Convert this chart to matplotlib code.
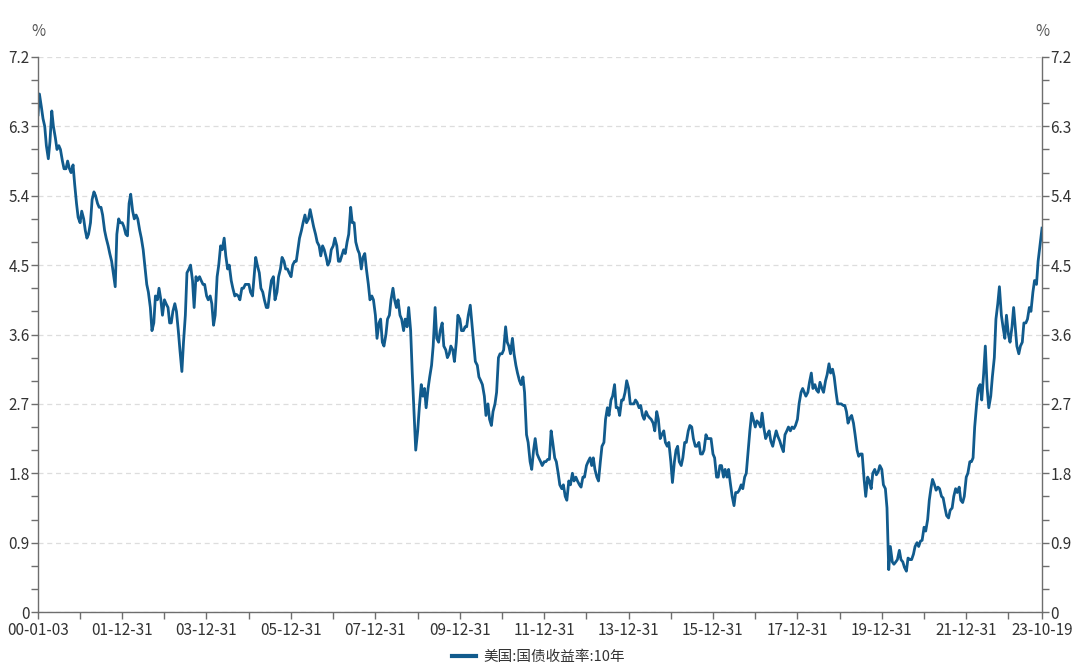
import numpy as np
import matplotlib.pyplot as plt
import matplotlib.dates as mdates
import pandas as pd
from matplotlib.ticker import MultipleLocator, FixedLocator

plt.rcParams['font.family'] = ['Noto Sans CJK SC', 'DejaVu Sans']

# 美国10年期国债收益率, 每半月取值(%)
y2000 = [6.45, 6.72, 6.55, 6.40, 6.30, 6.05, 5.88, 6.10, 6.50, 6.30, 6.15, 6.00,
         6.05, 6.00, 5.85, 5.75, 5.75, 5.85, 5.75, 5.70, 5.80, 5.55, 5.30, 5.12]
y2001 = [5.05, 5.20, 5.10, 4.95, 4.85, 4.90, 5.05, 5.35, 5.45, 5.40, 5.30, 5.25,
         5.25, 5.15, 4.95, 4.85, 4.75, 4.65, 4.55, 4.40, 4.22, 4.90, 5.10, 5.05]
y2002 = [5.05, 5.00, 4.90, 4.88, 5.30, 5.42, 5.20, 5.10, 5.15, 5.10, 4.95, 4.85,
         4.70, 4.50, 4.25, 4.15, 3.95, 3.65, 3.75, 4.10, 4.05, 4.20, 4.05, 3.85]
y2003 = [4.05, 4.00, 3.95, 3.75, 3.75, 3.90, 4.00, 3.90, 3.65, 3.40, 3.12, 3.50,
         3.85, 4.40, 4.45, 4.50, 4.30, 3.95, 4.35, 4.30, 4.35, 4.30, 4.25, 4.25]
y2004 = [4.10, 4.05, 4.10, 4.00, 3.72, 3.85, 4.35, 4.50, 4.75, 4.70, 4.85, 4.62,
         4.45, 4.50, 4.30, 4.20, 4.10, 4.12, 4.10, 4.05, 4.20, 4.20, 4.25, 4.25]
y2005 = [4.25, 4.15, 4.10, 4.35, 4.60, 4.50, 4.40, 4.20, 4.15, 4.05, 3.95, 3.95,
         4.15, 4.30, 4.35, 4.05, 4.15, 4.35, 4.45, 4.60, 4.55, 4.45, 4.45, 4.40]
y2006 = [4.35, 4.50, 4.55, 4.55, 4.70, 4.85, 4.95, 5.05, 5.15, 5.05, 5.10, 5.22,
         5.10, 5.00, 4.90, 4.80, 4.75, 4.62, 4.75, 4.70, 4.60, 4.50, 4.55, 4.70]
y2007 = [4.75, 4.85, 4.75, 4.55, 4.55, 4.62, 4.70, 4.65, 4.80, 4.90, 5.25, 5.05,
         5.05, 4.80, 4.70, 4.65, 4.45, 4.60, 4.65, 4.45, 4.25, 4.05, 4.10, 4.05]
y2008 = [3.85, 3.55, 3.75, 3.80, 3.50, 3.45, 3.60, 3.80, 3.85, 4.05, 4.20, 4.05,
         3.95, 4.05, 3.85, 3.80, 3.65, 3.80, 3.70, 3.95, 3.65, 3.10, 2.55, 2.10]
y2009 = [2.35, 2.65, 2.95, 2.80, 2.90, 2.65, 2.90, 3.05, 3.20, 3.45, 3.95, 3.55,
         3.50, 3.65, 3.75, 3.45, 3.40, 3.30, 3.35, 3.45, 3.40, 3.25, 3.50, 3.85]
y2010 = [3.80, 3.65, 3.65, 3.70, 3.70, 3.85, 3.98, 3.75, 3.50, 3.25, 3.20, 3.05,
         3.00, 2.95, 2.80, 2.55, 2.70, 2.50, 2.42, 2.60, 2.70, 2.85, 3.30, 3.35]
y2011 = [3.35, 3.40, 3.70, 3.50, 3.45, 3.35, 3.55, 3.35, 3.20, 3.10, 3.00, 2.95,
         3.05, 2.85, 2.30, 2.20, 1.95, 1.85, 2.10, 2.25, 2.05, 2.00, 1.95, 1.90]
y2012 = [1.95, 1.95, 1.98, 1.98, 2.35, 2.20, 2.00, 1.95, 1.80, 1.65, 1.60, 1.65,
         1.50, 1.45, 1.70, 1.65, 1.80, 1.70, 1.75, 1.70, 1.65, 1.62, 1.75, 1.75]
y2013 = [1.90, 1.95, 2.00, 1.90, 2.00, 1.85, 1.75, 1.70, 1.95, 2.15, 2.20, 2.50,
         2.65, 2.55, 2.75, 2.80, 2.95, 2.65, 2.65, 2.55, 2.75, 2.75, 2.85, 3.00]
y2014 = [2.90, 2.70, 2.70, 2.70, 2.75, 2.72, 2.65, 2.68, 2.55, 2.50, 2.60, 2.55,
         2.52, 2.50, 2.45, 2.35, 2.60, 2.50, 2.25, 2.30, 2.35, 2.20, 2.15, 2.20]
y2015 = [1.95, 1.68, 1.95, 2.10, 2.15, 1.95, 1.90, 2.00, 2.20, 2.20, 2.35, 2.42,
         2.40, 2.25, 2.15, 2.15, 2.20, 2.05, 2.05, 2.10, 2.30, 2.25, 2.25, 2.25]
y2016 = [2.05, 2.00, 1.75, 1.75, 1.90, 1.90, 1.75, 1.85, 1.75, 1.85, 1.65, 1.50,
         1.38, 1.55, 1.55, 1.58, 1.65, 1.60, 1.75, 1.80, 2.10, 2.35, 2.58, 2.50]
y2017 = [2.40, 2.48, 2.45, 2.40, 2.58, 2.40, 2.25, 2.30, 2.35, 2.22, 2.15, 2.25,
         2.35, 2.28, 2.22, 2.15, 2.08, 2.30, 2.35, 2.40, 2.35, 2.40, 2.38, 2.42]
y2018 = [2.50, 2.70, 2.85, 2.90, 2.85, 2.80, 2.85, 2.98, 3.10, 2.90, 2.95, 2.88,
         2.85, 2.98, 2.90, 2.85, 3.00, 3.08, 3.22, 3.10, 3.15, 3.05, 2.85, 2.70]
y2019 = [2.70, 2.70, 2.68, 2.68, 2.60, 2.45, 2.52, 2.55, 2.45, 2.30, 2.10, 2.02,
         2.05, 2.05, 1.72, 1.50, 1.75, 1.70, 1.60, 1.80, 1.85, 1.78, 1.82, 1.90]
y2020 = [1.85, 1.65, 1.60, 1.35, 0.55, 0.85, 0.65, 0.62, 0.65, 0.68, 0.80, 0.68,
         0.65, 0.58, 0.53, 0.70, 0.68, 0.68, 0.75, 0.85, 0.90, 0.85, 0.92, 0.93]
y2021 = [1.10, 1.05, 1.20, 1.45, 1.60, 1.72, 1.65, 1.58, 1.62, 1.60, 1.50, 1.48,
         1.35, 1.25, 1.22, 1.32, 1.35, 1.50, 1.60, 1.55, 1.62, 1.45, 1.42, 1.50]
y2022 = [1.75, 1.80, 1.95, 1.95, 2.00, 2.40, 2.70, 2.90, 2.95, 2.75, 3.10, 3.45,
         2.90, 2.65, 2.80, 3.05, 3.30, 3.80, 4.00, 4.22, 3.85, 3.70, 3.55, 3.85]
y2023 = [3.60, 3.50, 3.70, 3.95, 3.70, 3.45, 3.35, 3.45, 3.50, 3.75, 3.75, 3.80,
         3.95, 3.90, 4.15, 4.30, 4.25, 4.55, 4.75, 4.98]

yields = np.array(y2000 + y2001 + y2002 + y2003 + y2004 + y2005 + y2006 + y2007
                  + y2008 + y2009 + y2010 + y2011 + y2012 + y2013 + y2014 + y2015
                  + y2016 + y2017 + y2018 + y2019 + y2020 + y2021 + y2022 + y2023)
fechas = pd.date_range('2000-01-01', periods=len(yields), freq='SMS')
fechas = fechas.to_series().reset_index(drop=True)
fechas.iloc[0] = pd.Timestamp('2000-01-03')
fechas.iloc[-1] = pd.Timestamp('2023-10-19')

tick_dates = ['2000-01-03'] + ['20%02d-12-31' % y for y in range(1, 22, 2)] + ['2023-10-19']
tick_labels = ['00-01-03'] + ['%02d-12-31' % y for y in range(1, 22, 2)] + ['23-10-19']
minor_dates = ['20%02d-12-31' % y for y in range(0, 23, 2)]

serie = '美国:国债收益率:10年'
color_linea = '#115b8d'
gris_eje = '#6e6e6e'
gris_txt = '#333333'

fig = plt.figure(figsize=(10.9, 6.68), dpi=100)
ax = fig.add_axes([0.0349, 0.0838, 0.9211, 0.8309])

ax.plot(fechas, yields, color=color_linea, lw=2.0, label=serie)

ax.set_xlim(pd.Timestamp('2000-01-03'), pd.Timestamp('2023-10-19'))
ax.set_ylim(0, 7.2)
ax.yaxis.set_major_locator(MultipleLocator(0.9))
ax.yaxis.set_minor_locator(MultipleLocator(0.3))
ax.yaxis.set_major_formatter(plt.FuncFormatter(lambda v, p: '0' if v == 0 else '%.1f' % v))

ax.xaxis.set_major_locator(FixedLocator(mdates.date2num(pd.to_datetime(tick_dates))))
ax.xaxis.set_minor_locator(FixedLocator(mdates.date2num(pd.to_datetime(minor_dates))))
ax.set_xticklabels(tick_labels)

ax.grid(axis='y', which='major', ls=(0, (4, 3)), color='#dddddd', lw=0.9)
ax.set_axisbelow(True)

for s in ['left', 'right', 'bottom']:
    ax.spines[s].set_color(gris_eje)
    ax.spines[s].set_linewidth(1.0)
ax.spines['top'].set_visible(False)

ax.tick_params(axis='both', which='both', direction='out', length=5, width=1.0,
               color=gris_eje, labelcolor=gris_txt, labelsize=11, pad=1)
ax.tick_params(axis='y', which='both', left=True, right=True, labelleft=True, labelright=True)
ax.tick_params(axis='x', which='both', pad=2)

fig.text(0.0349, 0.953, '%', ha='center', va='center', fontsize=11, color='#555555')
fig.text(0.956, 0.953, '%', ha='center', va='center', fontsize=11, color='#555555')

fig.legend(loc='center', bbox_to_anchor=(0.494, 0.017), frameon=False, fontsize=10.5,
           handlelength=1.6, handletextpad=0.5, labelcolor=gris_txt)
for l in fig.legends[0].get_lines():
    l.set_linewidth(3)

fig.savefig('out.png', dpi=100)
